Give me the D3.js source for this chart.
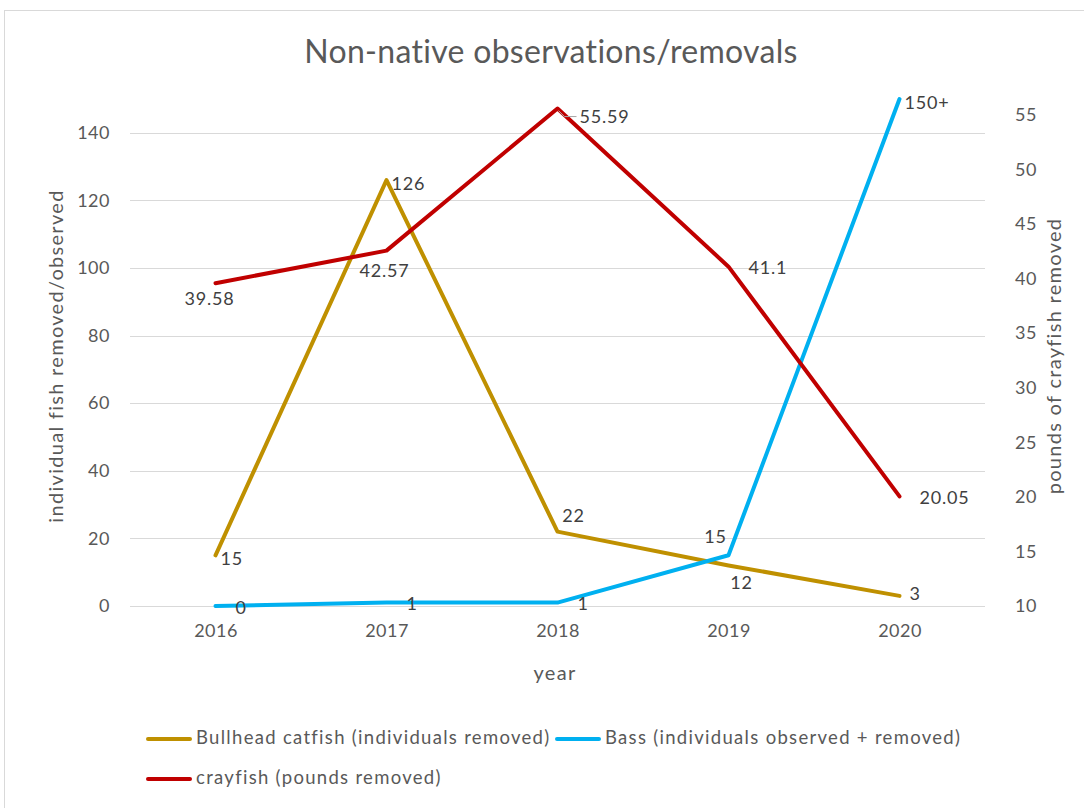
<!doctype html>
<html>
<head>
<meta charset="utf-8">
<style>
    body { margin: 0; background: #fff; }
    text { font-family: Lato, "Open Sans", sans-serif; }
</style>
</head>
<body>
<div class="chart"></div>
<script src="https://d3js.org/d3.v7.min.js"></script>
<script>

    // data
    let years = ['2016', '2017', '2018', '2019', '2020'];
    let bullhead = [15, 126, 22, 12, 3];
    let bass = [0, 1, 1, 15, 150];
    let bassLabels = ['0', '1', '1', '15', '150+'];
    let crayfish = [39.58, 42.57, 55.59, 41.1, 20.05];
    let leftTicks = [0, 20, 40, 60, 80, 100, 120, 140];
    let rightTicks = [10, 15, 20, 25, 30, 35, 40, 45, 50, 55];

    let width = 1084;
    let height = 808;
    let margin = {top: 99, right: 99, bottom: 202, left: 130};

    let svg = d3.select('.chart').append('svg')
        .attr('width', width)
        .attr('height', height);

    // chart frame
    svg.append('rect')
        .attr('x', 4.5).attr('y', 10.5)
        .attr('width', 1100).attr('height', 830)
        .attr('fill', '#fff')
        .attr('stroke', '#d9d9d9');

    let x = d3.scalePoint()
        .domain(years)
        .range([margin.left, width - margin.right])
        .padding(0.5);

    let yLeft = d3.scaleLinear()
        .domain([0, 150])
        .range([height - margin.bottom, margin.top]);

    let yRight = d3.scaleLinear()
        .domain([10, 55])
        .range([yLeft(0), yLeft(0) - 491]);

    // gridlines
    svg.append('g').selectAll('line')
        .data(leftTicks)
        .join('line')
        .attr('x1', margin.left)
        .attr('x2', width - margin.right)
        .attr('y1', d => Math.round(yLeft(d)) + 0.5)
        .attr('y2', d => Math.round(yLeft(d)) + 0.5)
        .attr('stroke', '#d9d9d9')
        .attr('stroke-width', 1);

    function styleTicks(g) {
        g.select('.domain').remove();
        g.selectAll('text')
            .attr('font-size', 18)
            .attr('fill', '#595959')
            .style('font-family', 'Lato, sans-serif')
            .style('letter-spacing', '0.5px');
    }

    // left axis
    let leftAxis = d3.axisLeft(yLeft).tickValues(leftTicks).tickSize(0).tickPadding(20);
    svg.append('g').attr('transform', `translate(${margin.left},0)`).call(leftAxis).call(styleTicks);

    // right axis
    let rightAxis = d3.axisRight(yRight).tickValues(rightTicks).tickSize(0).tickPadding(30);
    svg.append('g').attr('transform', `translate(${width - margin.right},0)`).call(rightAxis).call(styleTicks);

    // bottom axis
    let bottomAxis = d3.axisBottom(x).tickSize(0).tickPadding(18);
    svg.append('g').attr('transform', `translate(0,${yLeft(0)})`).call(bottomAxis).call(styleTicks);

    // titles
    svg.append('text')
        .attr('x', 551).attr('y', 63)
        .attr('text-anchor', 'middle')
        .attr('font-size', 32)
        .attr('fill', '#595959')
        .style('letter-spacing', '0.3px')
        .text('Non-native observations/removals');

    let axisTitles = [
        {text: 'year', t: 'translate(555,680)'},
        {text: 'individual fish removed/observed', t: 'translate(63,356) rotate(-90)'},
        {text: 'pounds of crayfish removed', t: 'translate(1061,356) rotate(-90)'}
    ];
    svg.append('g').selectAll('text')
        .data(axisTitles)
        .join('text')
        .attr('transform', d => d.t)
        .attr('text-anchor', 'middle')
        .attr('font-size', 20)
        .attr('fill', '#595959')
        .style('letter-spacing', '1.3px')
        .text(d => d.text);

    // series
    let series = [
        {name: 'Bullhead catfish (individuals removed)', values: bullhead, labels: bullhead.map(String),
            scale: yLeft, color: '#BF9000', place: ['right', 'right', 'above', 'below', 'rightmid']},
        {name: 'Bass (individuals observed + removed)', values: bass, labels: bassLabels,
            scale: yLeft, color: '#00B0F0', place: ['rightfar', 'rightfar', 'rightfar', 'aboveleft', 'right']},
        {name: 'crayfish (pounds removed)', values: crayfish, labels: crayfish.map(String),
            scale: yRight, color: '#C00000', place: ['belowleft', 'under', 'leader', 'rightfar', 'rightfar']}
    ];

    let offsets = {
        right: [5, 5, 'start'],
        rightmid: [10, 0, 'start'],
        rightfar: [20, 3, 'start'],
        above: [16, -14, 'middle'],
        below: [13, 19, 'middle'],
        under: [-2, 22, 'middle'],
        aboveleft: [-13, -17, 'middle'],
        belowleft: [-6, 17, 'middle'],
        leader: [22, 10, 'start']
    };

    series.forEach(s => {
        let line = d3.line()
            .x((d, i) => x(years[i]))
            .y(d => s.scale(d));

        svg.append('path')
            .datum(s.values)
            .attr('d', line)
            .attr('fill', 'none')
            .attr('stroke', s.color)
            .attr('stroke-width', 4)
            .attr('stroke-linejoin', 'round')
            .attr('stroke-linecap', 'round');
    });

    series.forEach(s => {
        s.values.forEach((v, i) => {
            let px = x(years[i]);
            let py = s.scale(v);
            let o = offsets[s.place[i]];
            if (s.place[i] === 'leader') {
                svg.append('polyline')
                    .attr('points', [[px + 1, py + 2], [px + 7, py + 8], [px + 19, py + 8]].join(' '))
                    .attr('fill', 'none')
                    .attr('stroke', '#a6a6a6')
                    .attr('stroke-width', 1);
            }
            svg.append('text')
                .attr('x', px + o[0])
                .attr('y', py + o[1])
                .attr('text-anchor', o[2])
                .attr('dominant-baseline', 'middle')
                .attr('font-size', 18)
                .attr('fill', '#404040')
                .style('letter-spacing', '0.8px')
                .text(s.labels[i]);
        });
    });

    // legend
    let legendPos = [[148, 739], [557, 739], [148, 779]];
    let legend = svg.append('g').selectAll('g')
        .data(series)
        .join('g')
        .attr('transform', (d, i) => `translate(${legendPos[i][0]},${legendPos[i][1]})`);

    legend.append('line')
        .attr('x1', 0).attr('x2', 42)
        .attr('stroke', d => d.color)
        .attr('stroke-width', 4)
        .attr('stroke-linecap', 'round');

    legend.append('text')
        .attr('x', 48)
        .attr('dominant-baseline', 'middle')
        .attr('font-size', 18.5)
        .attr('fill', '#595959')
        .style('letter-spacing', '1.3px')
        .text(d => d.name);

</script>
</body>
</html>
